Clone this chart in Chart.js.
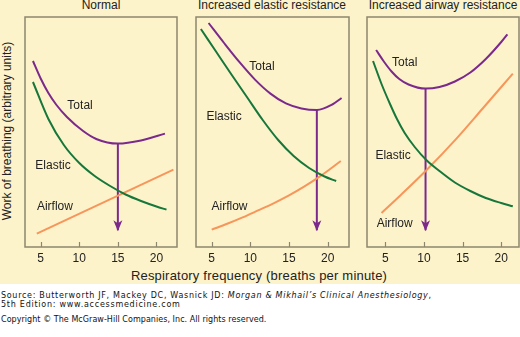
<!DOCTYPE html>
<html>
<head>
<meta charset="utf-8">
<script src="https://cdn.jsdelivr.net/npm/chart.js@4"></script>
<style>
  html, body { margin: 0; padding: 0; background: #fff; }
  body { width: 520px; height: 337px; position: relative; overflow: hidden; font-family: "Liberation Sans", Arial, sans-serif; }
  #figure { position: absolute; left: 0; top: 0; width: 520px; height: 284px; background: #fdf3cb; }
  canvas { position: absolute; }
  .t { position: absolute; font-size: 12px; line-height: 12px; color: #222; white-space: nowrap; }
  .src { position: absolute; left: 1px; font-family: "DejaVu Sans", Verdana, sans-serif; font-size: 8px; line-height: 8px; color: #111; white-space: nowrap; }
</style>
</head>
<body>
<div id="figure"></div>
<canvas id="normalChart" width="156" height="252" style="left:23px;top:15px"></canvas>
<canvas id="elasticChart" width="157" height="252" style="left:194px;top:15px"></canvas>
<canvas id="airwayChart" width="156" height="252" style="left:365px;top:15px"></canvas>

<div class="t" style="left:101px;top:-1px;transform:translateX(-50%)">Normal</div>
<div class="t" style="left:272px;top:-1px;transform:translateX(-50%)">Increased elastic resistance</div>
<div class="t" style="left:443px;top:-1px;transform:translateX(-50%)">Increased airway resistance</div>
<div class="t" style="left:7px;top:131px;transform:translate(-50%,-50%) rotate(-90deg)">Work of breathing (arbitrary units)</div>
<div class="t" style="left:259px;top:269px;font-size:13px;line-height:14px;letter-spacing:0.2px;transform:translateX(-50%)">Respiratory frequency (breaths per minute)</div>

<div class="src" style="top:292px;letter-spacing:0.7px">Source: Butterworth JF, Mackey DC, Wasnick JD: <i>Morgan &amp; Mikhail’s Clinical Anesthesiology</i>,</div>
<div class="src" style="top:301px;letter-spacing:0.75px">5th Edition: www.accessmedicine.com</div>
<div class="src" style="top:316px;letter-spacing:0.05px">Copyright © The McGraw-Hill Companies, Inc. All rights reserved.</div>

<script>
// x ticks shared by all three panels
const freqTicks = [5, 10, 15, 20];

// Normal
const normalTotalX = [4, 5, 6, 7, 8.4, 10.5, 12.2, 15, 18, 21.1];
const normalTotal = [186, 168.5, 154, 142.5, 130, 116, 108, 103.4, 106.5, 113.4];
const normalElasticX = [4, 6, 8, 10, 12, 14, 16, 18, 20, 21.3];
const normalElastic = [165, 128, 102, 84, 71, 61, 52.5, 46, 40.5, 37.4];
const normalAirflowX = [4.5, 22.2];
const normalAirflow = [13.4, 77.4];
const normalOptimum = 15;

// Increased elastic resistance
const elasticTotalX = [4.6, 6.6, 8.6, 10.6, 12.6, 14.6, 16.6, 18.6, 20.6, 21.8];
const elasticTotal = [224, 204, 184.8, 167.4, 153.4, 143.6, 138.6, 137, 142.5, 149];
const elasticElasticX = [3.6, 5.6, 7.6, 9.6, 11.6, 13.6, 15.6, 17.6, 19.6, 21.1];
const elasticElastic = [218, 195, 172, 149.5, 127, 107, 91, 79, 70.5, 66];
const elasticAirflowX = [5, 7, 9, 11, 13, 15, 17, 19, 21.7];
const elasticAirflow = [17.4, 23.2, 29.6, 36.6, 43.7, 51.6, 60.6, 70.6, 86];
const elasticOptimum = 18.6;

// Increased airway resistance
const airwayTotalX = [3.8, 4.8, 5.8, 6.8, 8, 10.2, 12, 14, 16, 18, 20, 20.8];
const airwayTotal = [197, 185.5, 175.5, 168, 162.5, 158.4, 160, 165.5, 174.5, 188, 205, 212.7];
const airwayElasticX = [3.4, 4.5, 5.6, 6.5, 7.5, 8.8, 10.3, 12, 14, 16, 18, 20, 21.5];
const airwayElastic = [186, 163, 143, 128, 114, 100, 87, 76, 64.5, 56, 49, 44, 40.7];
const airwayAirflowX = [4.5, 7, 10.3, 14.2, 17.6, 21.5];
const airwayAirflow = [34, 52, 76.7, 108.4, 138.5, 173.4];
const airwayOptimum = 10.2;

// arrows stop a little above the frequency axis
const arrowEnd = 16.7;

const PURPLE = '#7b2a8c';
const GREEN = '#17773a';
const ORANGE = '#f7955a';
const FRAME = '#8c866c';

function pts(xs, ys) {
    return xs.map((x, i) => ({ x: x, y: ys[i] }));
}

// total curve value at the optimum, read by linear interpolation of its own points
function valueAt(xs, ys, x) {
    for (let i = 1; i < xs.length; i++) {
        if (x <= xs[i]) {
            const t = (x - xs[i - 1]) / (xs[i] - xs[i - 1]);
            return ys[i - 1] + t * (ys[i] - ys[i - 1]);
        }
    }
    return ys[ys.length - 1];
}

// box around the plot area + short inward ticks + curve names + arrow heads
const framePlugin = {
    id: 'frame',
    beforeDatasetsDraw(chart) {
        const { ctx, chartArea: a, scales } = chart;
        ctx.save();
        ctx.strokeStyle = FRAME;
        ctx.lineWidth = 1.5;
        ctx.strokeRect(a.left, a.top, a.right - a.left, a.bottom - a.top);
        ctx.beginPath();
        freqTicks.forEach(v => {
            const px = Math.round(scales.x.getPixelForValue(v)) + 0.5;
            ctx.moveTo(px, a.bottom);
            ctx.lineTo(px, a.bottom - 5);
        });
        ctx.lineWidth = 1.2;
        ctx.stroke();
        ctx.restore();
    },
    afterDatasetsDraw(chart, args, opts) {
        const { ctx, scales } = chart;
        ctx.save();
        ctx.font = '12px "Liberation Sans", Arial, sans-serif';
        ctx.fillStyle = '#222';
        ctx.textAlign = 'center';
        ctx.textBaseline = 'middle';
        (opts.labels || []).forEach(l => {
            ctx.fillText(l.text, scales.x.getPixelForValue(l.x), scales.y.getPixelForValue(l.y));
        });
        // arrow head at the last point of the arrow dataset
        const meta = chart.getDatasetMeta(3);
        const tip = meta.data[meta.data.length - 1];
        ctx.fillStyle = PURPLE;
        ctx.beginPath();
        ctx.moveTo(tip.x, tip.y + 1);
        ctx.lineTo(tip.x - 4.5, tip.y - 10);
        ctx.lineTo(tip.x, tip.y - 7);
        ctx.lineTo(tip.x + 4.5, tip.y - 10);
        ctx.closePath();
        ctx.fill();
        ctx.restore();
    }
};

function makePanel(id, xMin, xMax, totalX, total, elasticX, elastic, airX, air, optimum, labels) {
    const curve = (data, color) => ({
        data: data,
        borderColor: color,
        borderWidth: 2,
        pointRadius: 0,
        fill: false,
        cubicInterpolationMode: 'monotone'
    });
    const arrow = {
        data: [
            { x: optimum, y: valueAt(totalX, total, optimum) },
            { x: optimum, y: arrowEnd }
        ],
        borderColor: PURPLE,
        borderWidth: 2,
        pointRadius: 0,
        fill: false
    };

    new Chart(document.getElementById(id), {
        type: 'line',
        data: {
            datasets: [
                curve(pts(totalX, total), PURPLE),
                curve(pts(elasticX, elastic), GREEN),
                curve(pts(airX, air), ORANGE),
                arrow
            ]
        },
        options: {
            responsive: false,
            animation: false,
            devicePixelRatio: 1,
            layout: { padding: { left: 2, right: 2, top: 2, bottom: 0 } },
            plugins: {
                legend: { display: false },
                tooltip: { enabled: false },
                frame: { labels: labels }
            },
            scales: {
                x: {
                    type: 'linear',
                    min: xMin,
                    max: xMax,
                    afterBuildTicks: s => { s.ticks = freqTicks.map(v => ({ value: v })); },
                    afterFit: s => { s.height = 20; },
                    grid: { display: false, drawTicks: false },
                    border: { display: false },
                    ticks: {
                        color: '#222',
                        padding: 4,
                        maxRotation: 0,
                        font: { family: '"Liberation Sans", Arial, sans-serif', size: 12 }
                    }
                },
                y: {
                    type: 'linear',
                    min: 0,
                    max: 230,
                    display: false
                }
            }
        },
        plugins: [framePlugin]
    });
}

makePanel('normalChart', 2.97, 22.66,
    normalTotalX, normalTotal, normalElasticX, normalElastic, normalAirflowX, normalAirflow, normalOptimum,
    [
        { text: 'Total', x: 10.1, y: 141.7 },
        { text: 'Elastic', x: 6.6, y: 81.7 },
        { text: 'Airflow', x: 6.85, y: 40 }
    ]);

makePanel('elasticChart', 2.97, 22.76,
    elasticTotalX, elasticTotal, elasticElasticX, elasticElastic, elasticAirflowX, elasticAirflow, elasticOptimum,
    [
        { text: 'Total', x: 11.5, y: 180 },
        { text: 'Elastic', x: 6.6, y: 130.7 },
        { text: 'Airflow', x: 7.3, y: 40 }
    ]);

makePanel('airwayChart', 2.62, 22.3,
    airwayTotalX, airwayTotal, airwayElasticX, airwayElastic, airwayAirflowX, airwayAirflow, airwayOptimum,
    [
        { text: 'Total', x: 7.5, y: 184 },
        { text: 'Elastic', x: 6.0, y: 91.7 },
        { text: 'Airflow', x: 6.2, y: 23.4 }
    ]);
</script>
</body>
</html>
